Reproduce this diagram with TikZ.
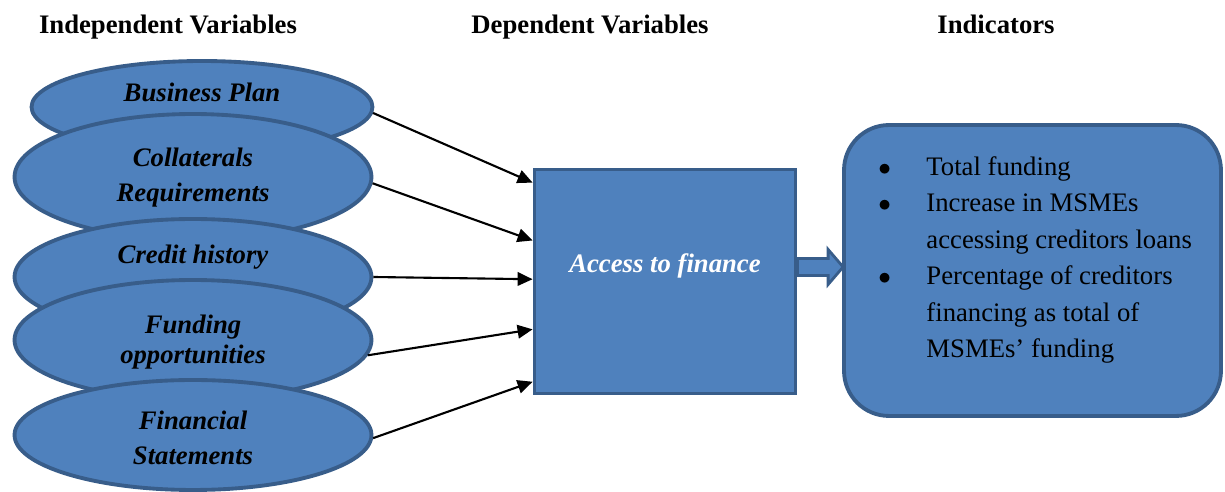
\documentclass[tikz,border=0pt]{standalone}
\usepackage{fontspec}
\setmainfont{Liberation Serif}
\usetikzlibrary{calc}
\usetikzlibrary{arrows.meta}
\usetikzlibrary{shapes.geometric}
\definecolor{bluefill}{HTML}{4F81BD}
\definecolor{blueline}{HTML}{385D8A}

\begin{document}
\begin{tikzpicture}[x=0.02cm,y=-0.02cm,
  font=\fontsize{15.2}{20.4}\selectfont,
  var/.style={ellipse,draw=blueline,fill=bluefill,line width=2.2pt,inner sep=0},
  vtext/.style={anchor=base,align=center,inner sep=0,font=\fontsize{15.2}{20.4}\selectfont\bfseries\itshape},
  head/.style={anchor=base,inner sep=0,font=\fontsize{15.2}{20.4}\selectfont\bfseries},
  arr/.style={black,line width=1.2pt,-{Triangle[length=0.3cm,width=0.27cm]}},
  fat/.style={draw=blueline,fill=bluefill,line width=1.6pt,line join=miter}]
\useasboundingbox (0,0) rectangle (1225,492);

% headings
\node[head] (h1) at (168,34) {Independent Variables};
\node[head] (h2) at (590,34) {Dependent Variables};
\node[head] (h3) at (996,34) {Indicators};

% independent variables, each one over the one above it
\node[var,minimum width=6.82cm,minimum height=1.84cm] (e1) at (202,107) {};
\node[vtext] (t1) at ($(e1.center)+(0,-5)$) {Business Plan};
\node[var,minimum width=7.14cm,minimum height=2.52cm] (e2) at (193,177) {};
\node[vtext] (t2) at ($(e2.center)+(0,25)$) {Collaterals\\Requirements};
\node[var,minimum width=7.14cm,minimum height=2.32cm] (e3) at (193,277) {};
\node[vtext] (t3) at ($(e3.center)+(0,-13)$) {Credit history};
\node[var,minimum width=7.14cm,minimum height=2.4cm] (e4) at (193,340) {};
\node[vtext] (t4) at ($(e4.center)+(0,24)$) {Funding\\[-0.1cm]opportunities};
\node[var,minimum width=7.14cm,minimum height=2.2cm] (e5) at (193,435) {};
\node[vtext] (t5) at ($(e5.center)+(0,30)$) {Financial\\Statements};

% dependent variable
\node[draw=blueline,fill=bluefill,line width=2.2pt,minimum width=5.22cm,minimum height=4.48cm] (box) at (665,281.5) {};
\node[vtext,text=white] (t6) at ($(box.center)+(0,-9)$) {Access to finance};

% indicators
\node[draw=blueline,fill=bluefill,line width=2.2pt,rounded corners=0.9cm,minimum width=7.54cm,minimum height=5.82cm] (ind) at (1032.5,270.5) {};
\node[anchor=base west,inner sep=0,font=\fontsize{15.2}{20.8}\selectfont] (list) at ($(ind.north west)+(36,52)$) {%
 \begin{tabular}[t]{@{}p{0.96cm}@{}l@{}}
 $\bullet$ & Total funding\\
 $\bullet$ & Increase in MSMEs\\
  & accessing creditors loans\\
 $\bullet$ & Percentage of creditors\\
  & financing as total of\\
  & MSMEs’ funding
 \end{tabular}};

% arrows
\foreach \e/\a/\f in {e1/-2/0.066, e2/-2.5/0.32, e3/-0.6/0.49, e4/-5.7/0.71, e5/-1/0.94}
 \draw[arr] (\e.\a) -- ($(box.north west)!\f!(box.south west)$);

\coordinate (tip) at ($(ind.west)+(1,-3.5)$);
\draw[fat] ($(box.east)+(0,-23)$) -- ($(tip)+(-15,-8.5)$) -- ($(tip)+(-15,-17.5)$) -- (tip)
 -- ($(tip)+(-15,17.5)$) -- ($(tip)+(-15,8.5)$) -- ($(box.east)+(0,-6)$) -- cycle;
\end{tikzpicture}
\end{document}
